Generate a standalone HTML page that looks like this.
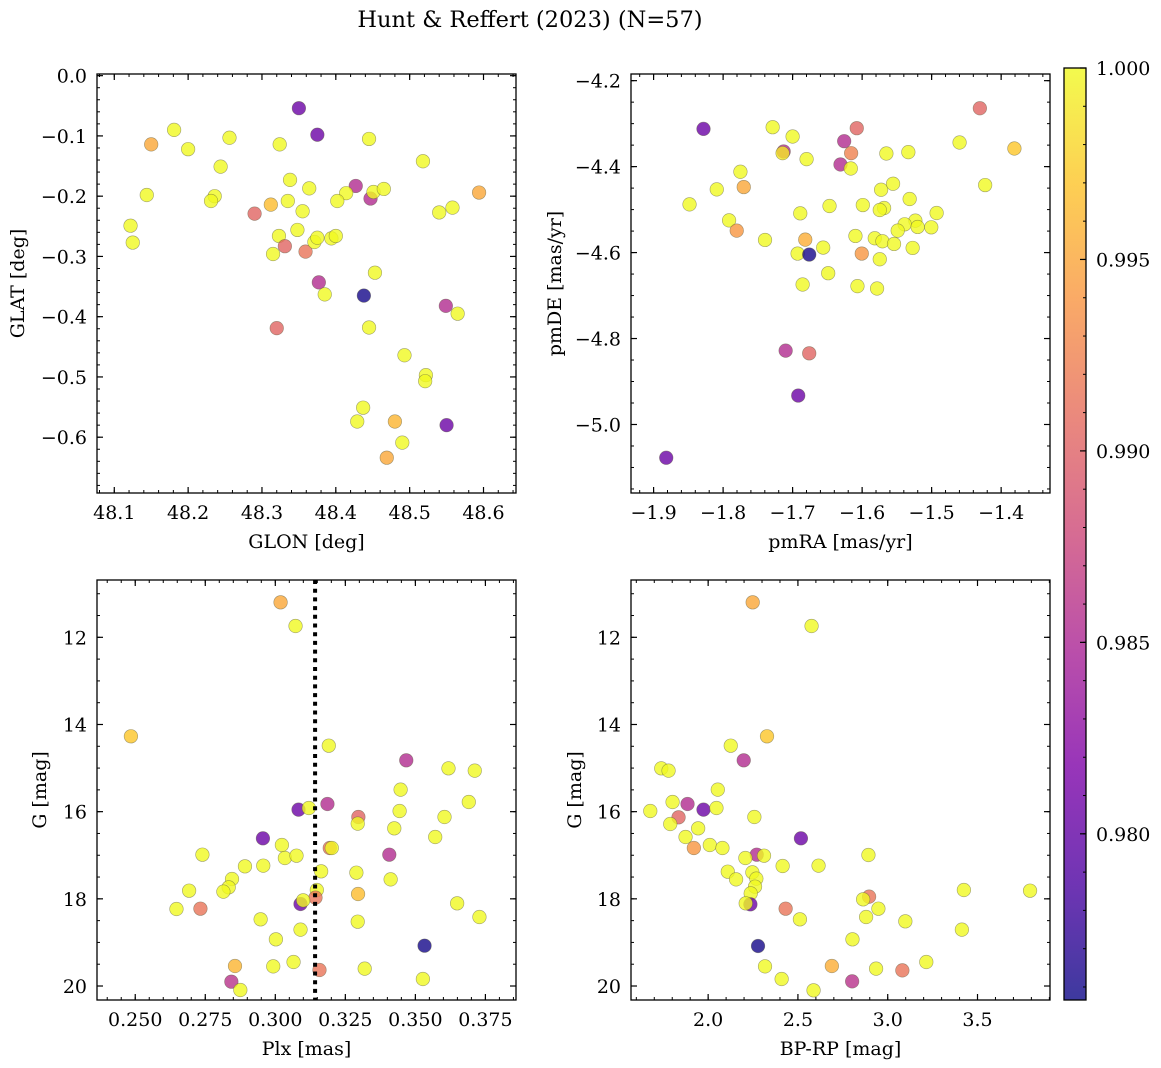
<!DOCTYPE html>
<html><head><meta charset="utf-8">
<style>
html,body{margin:0;padding:0;background:#fff;}
svg{display:block;font-family:"DejaVu Serif","Liberation Serif",serif;}
</style></head>
<body>
<svg id="fig" width="1161" height="1068" viewBox="0 0 1161 1068" xmlns="http://www.w3.org/2000/svg">
<text x="530" y="27" font-size="22.5" text-anchor="middle">Hunt &amp; Reffert (2023) (N=57)</text>
<defs>
<linearGradient id="cbg" x1="0" y1="1" x2="0" y2="0">
<stop offset="0" stop-color="#0d0887"/><stop offset="0.125" stop-color="#4c02a1"/>
<stop offset="0.25" stop-color="#7e03a8"/><stop offset="0.375" stop-color="#a92395"/>
<stop offset="0.5" stop-color="#cc4778"/><stop offset="0.625" stop-color="#e56b5d"/>
<stop offset="0.75" stop-color="#f89441"/><stop offset="0.875" stop-color="#fdc328"/>
<stop offset="1" stop-color="#f0f921"/></linearGradient>
</defs>
</svg>
<script>
// Panel 1: GLON vs GLAT
const glon=[48.350,48.375,48.150,48.181,48.200,48.256,48.324,48.445,48.244,48.518,48.144,48.236,48.231,48.338,48.364,48.427,48.414,48.402,48.447,48.451,48.465,48.594,48.540,48.558,48.290,48.312,48.335,48.355,48.122,48.125,48.323,48.348,48.331,48.315,48.359,48.371,48.375,48.394,48.400,48.453,48.377,48.385,48.438,48.549,48.565,48.320,48.445,48.493,48.522,48.521,48.437,48.429,48.480,48.550,48.490,48.469];
const glat=[-0.054,-0.098,-0.114,-0.090,-0.122,-0.103,-0.114,-0.105,-0.151,-0.142,-0.198,-0.200,-0.208,-0.173,-0.187,-0.183,-0.195,-0.208,-0.204,-0.193,-0.188,-0.194,-0.227,-0.219,-0.229,-0.214,-0.208,-0.225,-0.249,-0.277,-0.266,-0.256,-0.283,-0.296,-0.292,-0.276,-0.269,-0.270,-0.266,-0.327,-0.343,-0.363,-0.365,-0.382,-0.395,-0.419,-0.418,-0.464,-0.497,-0.507,-0.551,-0.574,-0.574,-0.580,-0.609,-0.634];
const prob1=[0.9805,0.9805,0.9951,1,1,1,1,1,1,1,1,1,1,1,1,0.9854,1,1,0.9854,1,1,0.9951,1,1,0.9903,0.9965,1,1,1,1,1,1,0.9903,1,0.9915,1,1,1,1,1,0.9854,1,0.9760,0.9854,1,0.9903,1,1,1,1,1,1,0.9960,0.9805,1,0.9951];
// Panel 2: pmRA vs pmDE
const pmra=[-1.4306,-1.8282,-1.7287,-1.7000,-1.6077,-1.6258,-1.7129,-1.7144,-1.6799,-1.6158,-1.5651,-1.5335,-1.4598,-1.3809,-1.6311,-1.6163,-1.7751,-1.7703,-1.8091,-1.4230,-1.8483,-1.5727,-1.5555,-1.6469,-1.5990,-1.5316,-1.5684,-1.5746,-1.4928,-1.6890,-1.7914,-1.7804,-1.5234,-1.5388,-1.5201,-1.5488,-1.5005,-1.7397,-1.6818,-1.6560,-1.6096,-1.5818,-1.5708,-1.5541,-1.5273,-1.6928,-1.6761,-1.6005,-1.5746,-1.6488,-1.6856,-1.6067,-1.5785,-1.7100,-1.6761,-1.6919,-1.8818];
const pmde=[-4.2642,-4.3122,-4.3083,-4.3300,-4.3106,-4.3408,-4.3648,-4.3687,-4.3826,-4.3687,-4.3694,-4.3663,-4.3439,-4.3578,-4.3950,-4.4043,-4.4120,-4.4476,-4.4530,-4.4429,-4.4878,-4.4538,-4.4398,-4.4917,-4.4894,-4.4754,-4.4963,-4.5010,-4.5079,-4.5087,-4.5250,-4.5489,-4.5257,-4.5342,-4.5404,-4.5489,-4.5412,-4.5706,-4.5698,-4.5884,-4.5613,-4.5667,-4.5737,-4.5799,-4.5892,-4.6023,-4.6046,-4.6023,-4.6155,-4.6480,-4.6743,-4.6781,-4.6836,-4.8282,-4.8344,-4.9327,-5.0774];
const prob2=[0.9903,0.9805,1,1,0.9903,0.9854,0.9854,0.9990,1,0.9925,1,1,1,0.9971,0.9854,1,1,0.9951,1,1,1,1,1,1,1,1,1,1,1,1,1,0.9940,1,1,1,1,1,1,0.9955,1,1,1,1,1,1,1,0.9760,0.9940,1,1,1,1,1,0.9854,0.9903,0.9805,0.9805];
// Panel 3: Plx vs G
const plx=[0.30188,0.30722,0.24846,0.31909,0.34675,0.36182,0.37120,0.34473,0.36907,0.30829,0.31197,0.31861,0.34437,0.32965,0.32942,0.36040,0.34247,0.35708,0.29558,0.30235,0.31944,0.32016,0.27398,0.30342,0.30757,0.34069,0.28917,0.29570,0.31636,0.32894,0.34117,0.28454,0.28336,0.28146,0.26923,0.31482,0.31434,0.32954,0.30900,0.30995,0.26472,0.27327,0.36491,0.37287,0.29475,0.32942,0.30900,0.30021,0.35328,0.28561,0.29926,0.30651,0.31577,0.33191,0.35268,0.28431,0.28751];
const gmag3=[11.197,11.740,14.271,14.486,14.822,15.006,15.059,15.495,15.778,15.954,15.916,15.824,15.985,16.122,16.275,16.122,16.382,16.581,16.612,16.765,16.834,16.834,16.987,17.063,17.010,16.987,17.254,17.239,17.369,17.400,17.553,17.545,17.736,17.835,17.813,17.797,17.973,17.889,18.118,18.034,18.233,18.226,18.103,18.417,18.470,18.524,18.707,18.929,19.075,19.541,19.549,19.449,19.633,19.602,19.839,19.901,20.092];
const prob3=[0.9951,1,0.9971,1,0.9854,1,1,1,1,0.9805,1,0.9854,1,0.9903,1,1,1,1,0.9805,1,0.9915,1,1,1,1,0.9854,1,1,1,1,1,1,1,1,1,1,0.9915,0.9965,0.9805,1,1,0.9915,1,1,1,1,1,1,0.9760,0.9960,1,1,0.9915,1,1,0.9860,1];
// Panel 4: BP-RP vs G
const bprp=[2.2481,2.5759,2.3278,2.1259,2.1981,1.7389,1.7796,2.0537,1.8019,1.8852,1.9741,2.0463,1.6778,1.8352,2.2574,1.7889,1.9444,1.8741,2.5167,2.0093,1.9204,2.0796,2.2704,2.3111,2.2074,2.8926,2.4148,2.6148,2.1093,2.1556,2.2463,2.2685,2.2611,2.2370,3.4241,3.7926,2.8963,2.8630,2.2352,2.2093,2.4315,2.9481,2.5111,2.8796,3.0981,3.4130,2.8037,2.2778,2.3167,2.6889,2.9352,3.0815,3.2148,2.4093,2.8019,2.5870];
const gmag4=[11.197,11.740,14.271,14.486,14.822,15.006,15.059,15.495,15.778,15.824,15.954,15.916,15.985,16.130,16.122,16.283,16.382,16.581,16.612,16.765,16.834,16.834,16.987,17.010,17.063,16.994,17.247,17.239,17.377,17.553,17.392,17.537,17.721,17.874,17.797,17.813,17.950,18.011,18.126,18.103,18.226,18.226,18.470,18.417,18.516,18.707,18.929,19.082,19.549,19.541,19.602,19.641,19.449,19.839,19.893,20.099];
const prob4=[0.9951,1,0.9971,1,0.9854,1,1,1,1,0.9854,0.9805,1,1,0.9903,1,1,1,1,0.9805,1,0.9940,1,0.9854,1,1,1,1,1,1,1,1,1,1,1,1,1,0.9915,1,0.9805,1,0.9915,1,1,1,1,1,1,0.9760,1,0.9955,1,0.9915,1,1,0.9860,1];
// axis ticks
const ticks1x=[48.1,48.2,48.3,48.4,48.5,48.6], ticks1y=[0.0,-0.1,-0.2,-0.3,-0.4,-0.5,-0.6];
const ticks2x=[-1.9,-1.8,-1.7,-1.6,-1.5,-1.4], ticks2y=[-4.2,-4.4,-4.6,-4.8,-5.0];
const ticks3x=[0.250,0.275,0.300,0.325,0.350,0.375], ticksG=[12,14,16,18,20];
const ticks4x=[2.0,2.5,3.0,3.5];
const cbTicks=[1.000,0.995,0.990,0.985,0.980];
const plxRef=[0.3142];
const vmin=0.97566, vmax=1.0;

const FS=19;
const NS="http://www.w3.org/2000/svg";
const svg=document.getElementById('fig');
function mk(tag,attrs,parent){const e=document.createElementNS(NS,tag);for(const k in attrs)e.setAttribute(k,attrs[k]);(parent||svg).appendChild(e);return e;}
const stops=[[13,8,135],[76,2,161],[126,3,168],[169,35,149],[204,71,120],[229,107,93],[248,148,65],[253,195,40],[240,249,33]];
function plasma(p){let t=(p-vmin)/(vmax-vmin);t=Math.max(0,Math.min(1,t))*8;const i=Math.min(7,Math.floor(t)),f=t-i;const a=stops[i],b=stops[i+1];return 'rgb('+[0,1,2].map(k=>Math.round(a[k]+(b[k]-a[k])*f)).join(',')+')';}
function fmt(v,d){const s=Math.abs(v).toFixed(d);return (v<-1e-9?'\u2212':'')+s;}

function panel(o){
  const g=mk('g',{});
  
  
  const X=v=>o.L+(v-o.x0)/(o.x1-o.x0)*o.W;
  const Y=v=>o.T+(v-o.y0)/(o.y1-o.y0)*o.H;
  for(let i=0;i<o.xs.length;i++){
    const c=mk('circle',{cx:X(o.xs[i]),cy:Y(o.ys[i]),r:6.8,fill:plasma(o.ps[i]),'fill-opacity':0.8,stroke:'rgba(90,90,60,0.55)','stroke-width':0.6},g);
    
    
  }
  if(o.vline){o.vline.forEach(v=>{const l=mk('line',{x1:X(v),x2:X(v),y1:o.T,y2:o.T+o.H,stroke:'#000','stroke-width':4,'stroke-dasharray':'4 4.7'},g);
    
    });}
  const f=mk('rect',{x:o.L,y:o.T,width:o.W,height:o.H,fill:'none',stroke:'#000','stroke-width':1.3},g);
  
  
  const xlo=Math.min(o.x0,o.x1),xhi=Math.max(o.x0,o.x1);
  for(let v=Math.ceil(xlo/o.xm-1e-6)*o.xm;v<=xhi+1e-9;v+=o.xm){const px=X(v);
    mk('line',{x1:px,x2:px,y1:o.T+o.H,y2:o.T+o.H-3,stroke:'#000','stroke-width':1},g);
    mk('line',{x1:px,x2:px,y1:o.T,y2:o.T+3,stroke:'#000','stroke-width':1},g);}
  o.xt.forEach(v=>{const px=X(v);
    mk('line',{x1:px,x2:px,y1:o.T+o.H,y2:o.T+o.H-6,stroke:'#000','stroke-width':1.2},g);
    mk('line',{x1:px,x2:px,y1:o.T,y2:o.T+6,stroke:'#000','stroke-width':1.2},g);
    const t=mk('text',{x:px,y:o.T+o.H+26,'font-size':FS,'text-anchor':'middle'},g);t.textContent=fmt(v,o.xd);
    
    });
  const ylo=Math.min(o.y0,o.y1),yhi=Math.max(o.y0,o.y1);
  for(let v=Math.ceil(ylo/o.ym-1e-6)*o.ym;v<=yhi+1e-9;v+=o.ym){const py=Y(v);
    mk('line',{x1:o.L,x2:o.L+3,y1:py,y2:py,stroke:'#000','stroke-width':1},g);
    mk('line',{x1:o.L+o.W,x2:o.L+o.W-3,y1:py,y2:py,stroke:'#000','stroke-width':1},g);}
  o.yt.forEach(v=>{const py=Y(v);
    mk('line',{x1:o.L,x2:o.L+6,y1:py,y2:py,stroke:'#000','stroke-width':1.2},g);
    mk('line',{x1:o.L+o.W,x2:o.L+o.W-6,y1:py,y2:py,stroke:'#000','stroke-width':1.2},g);
    const t=mk('text',{x:o.L-10,y:py+7,'font-size':FS,'text-anchor':'end'},g);t.textContent=fmt(v,o.yd);
    
    });
  const xl=mk('text',{x:o.L+o.W/2,y:o.T+o.H+55,'font-size':FS,'text-anchor':'middle'},g);xl.textContent=o.xlab;
  
  
  const yx=o.ylx, yy=o.T+o.H/2;
  const yl=mk('text',{x:yx,y:yy,'font-size':FS,'text-anchor':'middle',transform:'rotate(-90 '+yx+' '+yy+')'},g);yl.textContent=o.ylab;
  
  
}
panel({name:'glon-glat-panel',L:97,T:74,W:419,H:419,x0:48.0766,x1:48.644,y0:0.00276,y1:-0.6926,xs:glon,ys:glat,ps:prob1,xt:ticks1x,yt:ticks1y,xm:0.02,ym:0.02,xd:1,yd:1,xlab:'GLON [deg]',ylab:'GLAT [deg]',ylx:24});
panel({name:'pm-panel',L:631,T:74,W:419,H:419,x0:-1.9325,x1:-1.3297,y0:-4.1845,y1:-5.1594,xs:pmra,ys:pmde,ps:prob2,xt:ticks2x,yt:ticks2y,xm:0.02,ym:0.05,xd:1,yd:1,xlab:'pmRA [mas/yr]',ylab:'pmDE [mas/yr]',ylx:561});
panel({name:'plx-g-panel',L:97,T:580,W:419,H:420,x0:0.23635,x1:0.38592,y0:10.685,y1:20.321,xs:plx,ys:gmag3,ps:prob3,xt:ticks3x,yt:ticksG,xm:0.005,ym:0.5,xd:3,yd:0,xlab:'Plx [mas]',ylab:'G [mag]',ylx:46,vline:plxRef});
panel({name:'cmd-panel',L:631,T:580,W:419,H:420,x0:1.5704,x1:3.9037,y0:10.685,y1:20.321,xs:bprp,ys:gmag4,ps:prob4,xt:ticks4x,yt:ticksG,xm:0.1,ym:0.5,xd:1,yd:0,xlab:'BP-RP [mag]',ylab:'G [mag]',ylx:581});
const cb=mk('g',{});


const CT=68,CB=1000,CL=1064,CW=22;
mk('rect',{x:CL,y:CT,width:CW,height:CB-CT,fill:'url(#cbg)','fill-opacity':0.8},cb);
mk('rect',{x:CL,y:CT,width:CW,height:CB-CT,fill:'none',stroke:'#000','stroke-width':1.3},cb);
const CY=v=>CB-(v-vmin)/(vmax-vmin)*(CB-CT);
for(let v=0.976;v<=1.00001;v+=0.001){mk('line',{x1:CL+CW,x2:CL+CW-3,y1:CY(v),y2:CY(v),stroke:'#000','stroke-width':1},cb);}
cbTicks.forEach(v=>{const py=CY(v);mk('line',{x1:CL+CW,x2:CL+CW-6,y1:py,y2:py,stroke:'#000','stroke-width':1.2},cb);
  const t=mk('text',{x:1096,y:py+7,'font-size':FS},cb);t.textContent=v.toFixed(3);
  
  });
</script>
</body></html>
